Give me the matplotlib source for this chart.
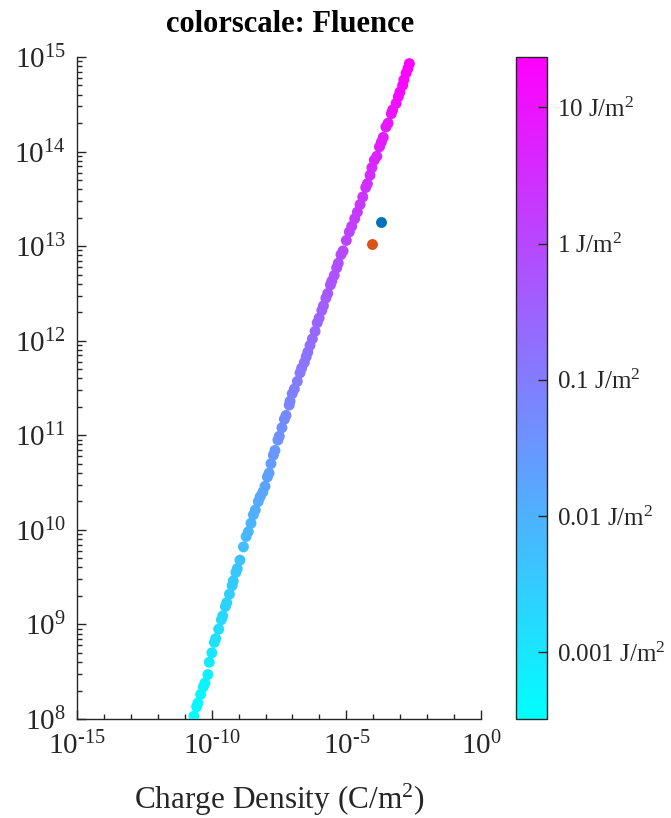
import numpy as np
import matplotlib
matplotlib.use("Agg")
import matplotlib.pyplot as plt
from matplotlib.colors import LogNorm
from matplotlib.ticker import FixedLocator, NullLocator, FixedFormatter, NullFormatter

plt.rcParams.update({
    "font.family": "serif",
    "font.serif": ["Liberation Serif", "DejaVu Serif"],
    "mathtext.fontset": "custom",
    "mathtext.rm": "Liberation Serif",
    "mathtext.it": "Liberation Serif:italic",
    "mathtext.bf": "Liberation Serif:bold",
    "mathtext.default": "regular",
})

# log10 of charge density (C/m^2)
log_charge = [
    -10.66, -10.56, -10.51, -10.41, -10.31, -10.25, -10.14, -10.09, -9.99, -9.90,
    -9.85, -9.74, -9.64, -9.59, -9.49, -9.44, -9.34, -9.24, -9.20, -9.10,
    -9.05, -8.95, -8.82, -8.72, -8.64, -8.54, -8.45, -8.38, -8.27, -8.20,
    -8.10, -8.02, -7.93, -7.87, -7.80, -7.71, -7.65, -7.54, -7.49, -7.39,
    -7.30, -7.24, -7.12, -7.09, -7.01, -6.93, -6.82, -6.72, -6.66, -6.56,
    -6.49, -6.43, -6.35, -6.26, -6.16, -6.08, -6.01, -5.91, -5.85, -5.76,
    -5.69, -5.59, -5.54, -5.45, -5.36, -5.30, -5.20, -5.12, -5.00, -4.89,
    -4.80, -4.69, -4.59, -4.49, -4.39, -4.28, -4.22, -4.12, -4.05, -3.96,
    -3.87, -3.77, -3.70, -3.63, -3.53, -3.45, -3.33, -3.28, -3.15, -3.07,
    -3.01, -2.91, -2.86, -2.78, -2.71, -2.66,
]

# log10 of the vertical quantity
log_value = [
    8.03, 8.13, 8.17, 8.26, 8.34, 8.38, 8.47, 8.60, 8.70, 8.81,
    8.85, 8.95, 9.05, 9.09, 9.19, 9.23, 9.32, 9.41, 9.46, 9.55,
    9.59, 9.68, 9.82, 9.93, 9.98, 10.07, 10.16, 10.21, 10.30, 10.35,
    10.40, 10.46, 10.56, 10.60, 10.70, 10.79, 10.84, 10.95, 10.99, 11.08,
    11.17, 11.21, 11.32, 11.36, 11.44, 11.49, 11.57, 11.66, 11.71, 11.77,
    11.83, 11.88, 11.95, 12.02, 12.10, 12.19, 12.24, 12.32, 12.37, 12.45,
    12.50, 12.59, 12.63, 12.69, 12.77, 12.82, 12.91, 12.95, 13.06, 13.15,
    13.21, 13.29, 13.36, 13.44, 13.52, 13.62, 13.66, 13.75, 13.83, 13.91,
    13.95, 14.05, 14.10, 14.15, 14.26, 14.30, 14.40, 14.44, 14.51, 14.58,
    14.63, 14.70, 14.76, 14.83, 14.88, 14.93,
]

# log10 of fluence (J/m^2), used for the colour scale
log_fluence = [
    -3.49, -3.42, -3.39, -3.33, -3.27, -3.24, -3.18, -3.09, -3.02, -2.94,
    -2.91, -2.84, -2.77, -2.74, -2.67, -2.64, -2.58, -2.52, -2.48, -2.42,
    -2.39, -2.33, -2.23, -2.15, -2.12, -2.05, -1.99, -1.95, -1.89, -1.85,
    -1.82, -1.78, -1.71, -1.68, -1.61, -1.54, -1.51, -1.43, -1.40, -1.34,
    -1.28, -1.25, -1.17, -1.14, -1.09, -1.05, -0.99, -0.93, -0.90, -0.85,
    -0.81, -0.78, -0.73, -0.68, -0.62, -0.56, -0.52, -0.47, -0.43, -0.37,
    -0.34, -0.27, -0.25, -0.20, -0.15, -0.11, -0.05, -0.02, 0.06, 0.12,
    0.16, 0.22, 0.27, 0.32, 0.38, 0.45, 0.48, 0.54, 0.60, 0.66,
    0.68, 0.75, 0.79, 0.82, 0.90, 0.93, 1.00, 1.03, 1.08, 1.13,
    1.16, 1.21, 1.26, 1.30, 1.34, 1.37,
]

# two single measurements (log10 charge density, log10 value)
point_a = (-3.72, 13.26)
point_b = (-4.04, 13.02)

x_ticks = [1e-15, 1e-10, 1e-5, 1e0]
x_tick_labels = ["$10^{\u201015}$", "$10^{\u201010}$", "$10^{\u20105}$", "$10^{0}$"]
y_ticks = [1e8, 1e9, 1e10, 1e11, 1e12, 1e13, 1e14, 1e15]
y_tick_labels = [r"$10^{%d}$" % k for k in range(8, 16)]
cb_ticks = [1e-3, 1e-2, 1e-1, 1e0, 1e1]
cb_tick_labels = [r"0.001 J/m$^{2}$", r"0.01 J/m$^{2}$", r"0.1 J/m$^{2}$",
                  r"1 J/m$^{2}$", r"10 J/m$^{2}$"]

charge = 10 ** np.array(log_charge)
value = 10 ** np.array(log_value)
fluence = 10 ** np.array(log_fluence)

W, H = 671, 818
fig = plt.figure(figsize=(W / 100, H / 100), dpi=100)
ax = fig.add_axes([77 / W, 1 - 719 / H, 404 / W, 662 / H])
cax = fig.add_axes([515.5 / W, 1 - 719 / H, 31.8 / W, 662 / H])

axis_color = "#262626"
marker_size = 62
norm = LogNorm(vmin=fluence.min(), vmax=fluence.max())
sc = ax.scatter(charge, value, c=fluence, cmap="cool", norm=norm,
                s=marker_size, linewidths=0, zorder=3)
ax.scatter([10 ** point_a[0]], [10 ** point_a[1]], color="#0072BD",
           s=marker_size, linewidths=0, zorder=3)
ax.scatter([10 ** point_b[0]], [10 ** point_b[1]], color="#D95319",
           s=marker_size, linewidths=0, zorder=3)

ax.set_xscale("log")
ax.set_yscale("log")
ax.set_xlim(1e-15, 1e0)
ax.set_ylim(1e8, 1e15)

ax.xaxis.set_major_locator(FixedLocator(x_ticks))
ax.xaxis.set_major_formatter(FixedFormatter(x_tick_labels))
x_minor = [10.0 ** k for k in range(-15, 1) if k % 5 != 0]
ax.xaxis.set_minor_locator(FixedLocator(x_minor))
ax.xaxis.set_minor_formatter(NullFormatter())

ax.yaxis.set_major_locator(FixedLocator(y_ticks))
ax.yaxis.set_major_formatter(FixedFormatter(y_tick_labels))
y_minor = [m * 10.0 ** k for k in range(8, 15) for m in range(2, 10)]
ax.yaxis.set_minor_locator(FixedLocator(y_minor))
ax.yaxis.set_minor_formatter(NullFormatter())

for side in ("top", "right"):
    ax.spines[side].set_visible(False)
for side in ("left", "bottom"):
    ax.spines[side].set_color(axis_color)
    ax.spines[side].set_linewidth(1.0)

ax.tick_params(which="both", direction="in", colors=axis_color, width=1.0,
               labelsize=21, labelcolor=axis_color)
ax.tick_params(which="major", length=6.5)
ax.tick_params(which="minor", length=3.5)
ax.tick_params(axis="x", which="major", pad=9)
ax.tick_params(axis="y", which="major", pad=8)

ax.set_xlabel(r"Charge Density (C/m$^{2}$)", fontsize=22.5, color=axis_color,
              labelpad=16)

fig.text(290 / W, 1 - 24 / H, "colorscale: Fluence", fontsize=22,
         fontweight="bold", ha="center", va="center", color="black")

cb = fig.colorbar(sc, cax=cax)
cb.set_ticks(cb_ticks)
cb.set_ticklabels(cb_tick_labels)
cax.yaxis.set_minor_locator(NullLocator())
cb.outline.set_edgecolor(axis_color)
cb.outline.set_linewidth(1.0)
cax.tick_params(which="major", direction="in", length=6.5, width=1.0,
                colors=axis_color, labelsize=18, labelcolor=axis_color, pad=7)

fig.savefig("out.png", dpi=100)
